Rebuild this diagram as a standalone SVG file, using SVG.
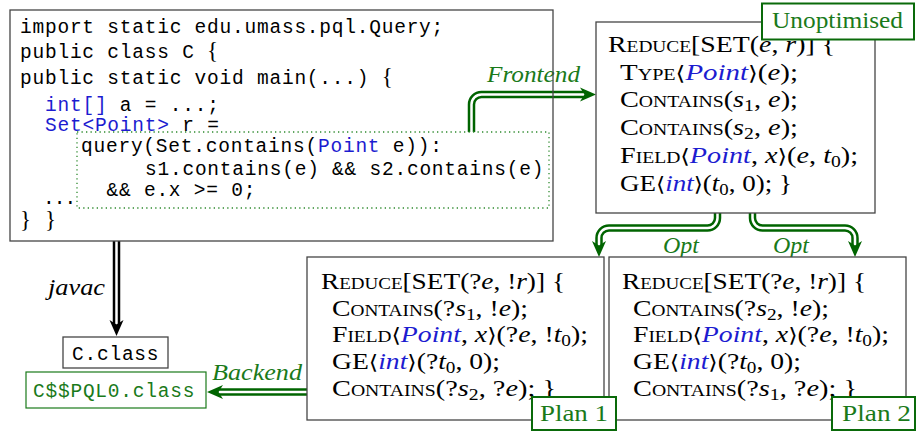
<svg xmlns="http://www.w3.org/2000/svg" width="917" height="433" viewBox="0 0 917 433">
<style>
.box{fill:#fff;stroke:#454545;stroke-width:1.3}
.codebox{fill:none;stroke:#454545;stroke-width:1.3}
.lbl{fill:#fff;stroke:#0a6a0a;stroke-width:2}
.cm{font-family:"Liberation Serif",serif;font-size:23px;fill:#000}
.tt{font-family:"Liberation Mono",monospace;font-size:19.5px;letter-spacing:0.77px;fill:#000}
.br{font-family:"Liberation Serif",serif;font-size:23px}
.sc{font-variant:small-caps}
.it{font-style:italic}
.bl{fill:#1c1cd0}
.gr{fill:#1a7a1a}
.sub{font-size:16px}
.ang{font-family:"DejaVu Serif","DejaVu Sans",serif;font-size:20px}
.outer{fill:none;stroke-width:7.5}
.inner{fill:none;stroke:#fff;stroke-width:2.5}
.g{stroke:#006400}
.k{stroke:#000}
</style>
<defs>
<path id="ah" d="M0,0 L-16,-7 L-11.5,0 L-16,7 Z"/>
</defs>

<g id="connectors">
 <g id="frontend">
  <path class="outer g" d="M471.5,132 V104.5 A10,10 0 0 1 481.5,94.5 H584.5"/>
  <path class="inner" d="M471.5,132 V104.5 A10,10 0 0 1 481.5,94.5 H584.5"/>
  <use href="#ah" transform="translate(596,94.5)" fill="#006400"/>
  <text class="cm it gr" x="487" y="82" textLength="93" lengthAdjust="spacingAndGlyphs">Frontend</text>
 </g>
 <g id="opt1">
  <path class="outer g" d="M717.5,213 V218 A10,10 0 0 1 707.5,228 H609 A10,10 0 0 0 599,238 V245.5"/>
  <path class="inner" d="M717.5,213 V218 A10,10 0 0 1 707.5,228 H609 A10,10 0 0 0 599,238 V245.5"/>
  <use href="#ah" transform="translate(599,257) rotate(90)" fill="#006400"/>
  <text class="cm it gr" x="663" y="253" textLength="36" lengthAdjust="spacingAndGlyphs">Opt</text>
 </g>
 <g id="opt2">
  <path class="outer g" d="M752.5,213 V218 A10,10 0 0 0 762.5,228 H845 A10,10 0 0 1 855,238 V245.5"/>
  <path class="inner" d="M752.5,213 V218 A10,10 0 0 0 762.5,228 H845 A10,10 0 0 1 855,238 V245.5"/>
  <use href="#ah" transform="translate(855,257) rotate(90)" fill="#006400"/>
  <text class="cm it gr" x="773" y="253" textLength="36" lengthAdjust="spacingAndGlyphs">Opt</text>
 </g>
 <g id="javac">
  <path class="outer k" d="M116.5,241 V324.5"/>
  <path class="inner" d="M116.5,241 V324.5"/>
  <use href="#ah" transform="translate(116.5,336) rotate(90)" fill="#000"/>
  <text class="cm it" x="48" y="295" textLength="57" lengthAdjust="spacingAndGlyphs">javac</text>
 </g>
 <g id="backend">
  <path class="outer g" d="M307,392 H218.5"/>
  <path class="inner" d="M307,392 H218.5"/>
  <use href="#ah" transform="translate(207,392) rotate(180)" fill="#006400"/>
  <text class="cm it gr" x="212" y="380" textLength="90" lengthAdjust="spacingAndGlyphs">Backend</text>
 </g>
</g>

<g id="code">
 <rect class="codebox" x="10" y="10" width="543" height="231"/>
 <rect x="77" y="132" width="472" height="76" fill="none" stroke="#2e8b2e" stroke-width="1.3" stroke-dasharray="1.3 3.2"/>
 <text class="tt" x="20" y="33">import static edu.umass.pql.Query;</text>
 <text class="tt" x="20" y="58">public class C <tspan class="br">{</tspan></text>
 <text class="tt" x="20" y="84">public static void main(...) <tspan class="br">{</tspan></text>
 <text class="tt" x="45" y="111"><tspan class="bl">int[]</tspan> a = ...;</text>
 <text class="tt" x="45" y="131"><tspan class="bl">Set&lt;Point&gt;</tspan> r =</text>
 <text class="tt" x="81" y="152">query(Set.contains(<tspan class="bl">Point</tspan> e)):</text>
 <text class="tt" x="145" y="175">s1.contains(e) &amp;&amp; s2.contains(e)</text>
 <text class="tt" x="106.5" y="196">&amp;&amp; e.x &gt;= 0;</text>
 <text class="tt" x="43" y="204" style="letter-spacing:-1px">...</text>
 <text class="br" x="20 45" y="227">}}</text>
</g>

<g id="unoptimised">
 <rect class="box" x="596" y="22" width="279" height="191"/>
 <text class="cm" x="608" y="52" textLength="227" lengthAdjust="spacingAndGlyphs"><tspan class="sc">Reduce</tspan>[SET(<tspan class="it">e</tspan>, <tspan class="it">r</tspan>)] {</text>
 <text class="cm" x="620" y="80" textLength="178" lengthAdjust="spacingAndGlyphs"><tspan class="sc">Type</tspan><tspan class="ang">⟨</tspan><tspan class="it bl">Point</tspan><tspan class="ang">⟩</tspan>(<tspan class="it">e</tspan>);</text>
 <text class="cm" x="620" y="107" textLength="178" lengthAdjust="spacingAndGlyphs"><tspan class="sc">Contains</tspan>(<tspan class="it">s</tspan><tspan class="sub" dy="4">1</tspan><tspan dy="-4">, </tspan><tspan class="it">e</tspan>);</text>
 <text class="cm" x="620" y="135" textLength="178" lengthAdjust="spacingAndGlyphs"><tspan class="sc">Contains</tspan>(<tspan class="it">s</tspan><tspan class="sub" dy="4">2</tspan><tspan dy="-4">, </tspan><tspan class="it">e</tspan>);</text>
 <text class="cm" x="620" y="163" textLength="238" lengthAdjust="spacingAndGlyphs"><tspan class="sc">Field</tspan><tspan class="ang">⟨</tspan><tspan class="it bl">Point</tspan>, <tspan class="it">x</tspan><tspan class="ang">⟩</tspan>(<tspan class="it">e</tspan>, <tspan class="it">t</tspan><tspan class="sub" dy="4">0</tspan><tspan dy="-4">);</tspan></text>
 <text class="cm" x="620" y="191" textLength="172" lengthAdjust="spacingAndGlyphs">GE<tspan class="ang">⟨</tspan><tspan class="it bl">int</tspan><tspan class="ang">⟩</tspan>(<tspan class="it">t</tspan><tspan class="sub" dy="4">0</tspan><tspan dy="-4">, 0); }</tspan></text>
</g>

<g id="plan2">
 <rect class="box" x="609" y="257" width="297" height="163"/>
 <text class="cm" x="622" y="289" textLength="244" lengthAdjust="spacingAndGlyphs"><tspan class="sc">Reduce</tspan>[SET(?<tspan class="it">e</tspan>, !<tspan class="it">r</tspan>)] {</text>
 <text class="cm" x="633" y="316" textLength="196" lengthAdjust="spacingAndGlyphs"><tspan class="sc">Contains</tspan>(?<tspan class="it">s</tspan><tspan class="sub" dy="4">2</tspan><tspan dy="-4">, !</tspan><tspan class="it">e</tspan>);</text>
 <text class="cm" x="633" y="342" textLength="256" lengthAdjust="spacingAndGlyphs"><tspan class="sc">Field</tspan><tspan class="ang">⟨</tspan><tspan class="it bl">Point</tspan>, <tspan class="it">x</tspan><tspan class="ang">⟩</tspan>(?<tspan class="it">e</tspan>, !<tspan class="it">t</tspan><tspan class="sub" dy="4">0</tspan><tspan dy="-4">);</tspan></text>
 <text class="cm" x="633" y="369" textLength="168" lengthAdjust="spacingAndGlyphs">GE<tspan class="ang">⟨</tspan><tspan class="it bl">int</tspan><tspan class="ang">⟩</tspan>(?<tspan class="it">t</tspan><tspan class="sub" dy="4">0</tspan><tspan dy="-4">, 0);</tspan></text>
 <text class="cm" x="633" y="396" textLength="224" lengthAdjust="spacingAndGlyphs"><tspan class="sc">Contains</tspan>(?<tspan class="it">s</tspan><tspan class="sub" dy="4">1</tspan><tspan dy="-4">, ?</tspan><tspan class="it">e</tspan>); }</text>
</g>

<g id="plan1">
 <rect class="box" x="307" y="257" width="297" height="163"/>
 <text class="cm" x="321" y="289" textLength="244" lengthAdjust="spacingAndGlyphs"><tspan class="sc">Reduce</tspan>[SET(?<tspan class="it">e</tspan>, !<tspan class="it">r</tspan>)] {</text>
 <text class="cm" x="332" y="316" textLength="196" lengthAdjust="spacingAndGlyphs"><tspan class="sc">Contains</tspan>(?<tspan class="it">s</tspan><tspan class="sub" dy="4">1</tspan><tspan dy="-4">, !</tspan><tspan class="it">e</tspan>);</text>
 <text class="cm" x="332" y="342" textLength="256" lengthAdjust="spacingAndGlyphs"><tspan class="sc">Field</tspan><tspan class="ang">⟨</tspan><tspan class="it bl">Point</tspan>, <tspan class="it">x</tspan><tspan class="ang">⟩</tspan>(?<tspan class="it">e</tspan>, !<tspan class="it">t</tspan><tspan class="sub" dy="4">0</tspan><tspan dy="-4">);</tspan></text>
 <text class="cm" x="332" y="369" textLength="168" lengthAdjust="spacingAndGlyphs">GE<tspan class="ang">⟨</tspan><tspan class="it bl">int</tspan><tspan class="ang">⟩</tspan>(?<tspan class="it">t</tspan><tspan class="sub" dy="4">0</tspan><tspan dy="-4">, 0);</tspan></text>
 <text class="cm" x="332" y="396" textLength="224" lengthAdjust="spacingAndGlyphs"><tspan class="sc">Contains</tspan>(?<tspan class="it">s</tspan><tspan class="sub" dy="4">2</tspan><tspan dy="-4">, ?</tspan><tspan class="it">e</tspan>); }</text>
</g>

<g id="cclass">
 <rect x="63" y="337" width="105" height="31" fill="#fff" stroke="#454545" stroke-width="1.3"/>
 <text class="tt" x="72" y="360">C.class</text>
</g>

<g id="pqlclass">
 <rect x="26" y="372" width="180" height="36" fill="#fff" stroke="#1a7a1a" stroke-width="1.2"/>
 <text class="tt gr" x="33" y="397">C$$PQL0.class</text>
</g>

<g id="label-unoptimised">
 <rect class="lbl" x="762" y="3.5" width="152" height="36"/>
 <text class="cm gr" x="772" y="28" textLength="131" lengthAdjust="spacingAndGlyphs">Unoptimised</text>
</g>
<g id="label-plan1">
 <rect class="lbl" x="532" y="397" width="84" height="33"/>
 <text class="cm gr" x="540" y="421" textLength="68" lengthAdjust="spacingAndGlyphs">Plan 1</text>
</g>
<g id="label-plan2">
 <rect class="lbl" x="832" y="397" width="83" height="33"/>
 <text class="cm gr" x="842" y="421" textLength="69" lengthAdjust="spacingAndGlyphs">Plan 2</text>
</g>
</svg>
